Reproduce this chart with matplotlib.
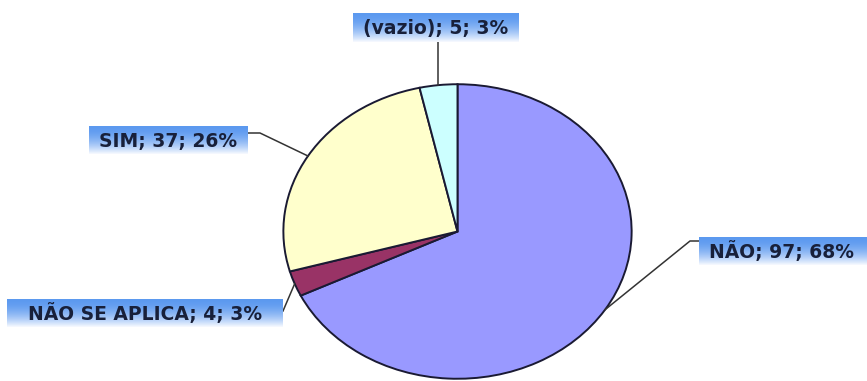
import numpy as np
import matplotlib
matplotlib.use("Agg")
import matplotlib.pyplot as plt

categories = ["NÃO", "NÃO SE APLICA", "SIM", "(vazio)"]
values = [97, 4, 37, 5]
colors = ["#9999FF", "#993366", "#FFFFCC", "#CCFFFF"]

W, H = 867, 381
fig = plt.figure(figsize=(W / 100, H / 100), dpi=100)
fig.patch.set_facecolor("white")

# pie axes (elliptical pie: stretched horizontally)
cx, cy, rx, ry = 457.5, 231.5, 175, 148  # pixels, y from top
ax = fig.add_axes([(cx - rx) / W, (H - (cy + ry)) / H, 2 * rx / W, 2 * ry / H])
wedges, _ = ax.pie(values, colors=colors, startangle=90, counterclock=False,
                   radius=1.0, wedgeprops=dict(edgecolor="#1a1a33", linewidth=1.4))
ax.set_aspect("auto")
ax.set_xlim(-1.005, 1.005)
ax.set_ylim(-1.005, 1.005)
ax.axis("off")

# overlay axes in pixel coordinates for labels
ov = fig.add_axes([0, 0, 1, 1], zorder=5)
ov.set_xlim(0, W)
ov.set_ylim(H, 0)
ov.axis("off")
ov.patch.set_alpha(0)

total = sum(values)
labels = [f"{c}; {v}; {round(100 * v / total)}%" for c, v in zip(categories, values)]

# label boxes (x0, x1, y0, y1) in pixels from top, and leader bend points
boxes = {
    "NÃO": (699, 867, 237, 265),
    "NÃO SE APLICA": (7, 283, 299, 327),
    "SIM": (89, 248, 126, 154),
    "(vazio)": (353, 519, 13, 42),
}
leader_mid = {
    "NÃO": [(690, 241), (699, 241)],
    "NÃO SE APLICA": [(283, 311)],
    "SIM": [(260, 133), (248, 133)],
    "(vazio)": [],
}

grad = np.linspace(0, 1, 64)[:, None] ** 1.8
top = np.array([0.36, 0.60, 0.94])
bot = np.array([0.97, 0.98, 1.0])
img = (top[None, None, :] * (1 - grad[..., None]) + bot[None, None, :] * grad[..., None])
img = np.repeat(img, 2, axis=1)

for w, cat, lab in zip(wedges, categories, labels):
    x0, x1, y0, y1 = boxes[cat]
    ov.imshow(img, extent=[x0, x1, y1, y0], aspect="auto", zorder=2, interpolation="bilinear")
    ov.text((x0 + x1) / 2 if cat != "NÃO" else x0 + 10, (y0 + y1) / 2 + 1, lab,
            ha="center" if cat != "NÃO" else "left", va="center",
            fontsize=13.5, fontweight="bold", color="#18203a",
            family="DejaVu Sans", zorder=3)
    # leader line from wedge edge at mid angle
    mid = np.deg2rad((w.theta1 + w.theta2) / 2)
    px, py = ax.transData.transform((np.cos(mid), np.sin(mid)))
    ex, ey = px, H - py
    if cat == "(vazio)":
        pts = [(ex, ey), (ex, y1)]
    else:
        pts = [(ex, ey)] + leader_mid[cat]
    xs, ys = zip(*pts)
    ov.plot(xs, ys, color="#333333", linewidth=1.1, zorder=1)

ov.set_xlim(0, W)
ov.set_ylim(H, 0)

fig.savefig("out.png", dpi=100, facecolor="white")
